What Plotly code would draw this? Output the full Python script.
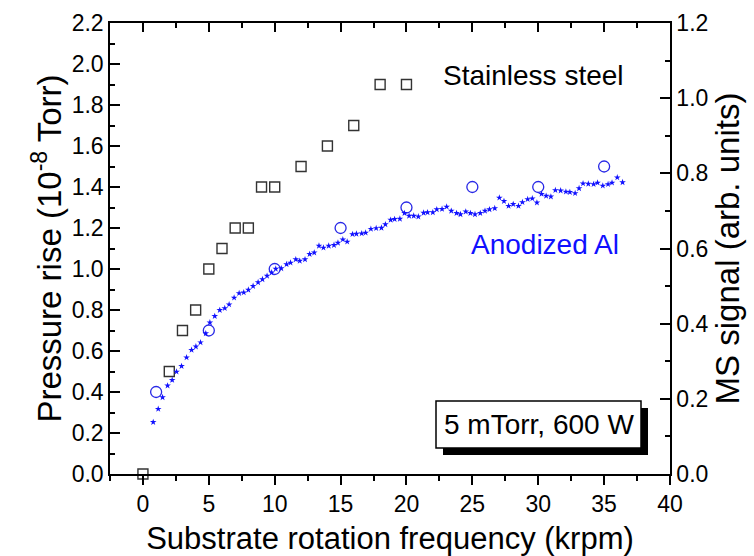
import plotly.graph_objects as go

# Pressure rise, stainless steel substrate holder (left axis, 1e-8 Torr)
ss_krpm = [0, 2, 3, 4, 5, 6, 7, 8, 9, 10, 12, 14, 16, 18, 20]
ss_pressure = [0.0, 0.5, 0.7, 0.8, 1.0, 1.1, 1.2, 1.2, 1.4, 1.4, 1.5, 1.6, 1.7, 1.9, 1.9]

# Pressure rise, anodized Al substrate holder (left axis, 1e-8 Torr)
al_krpm = [1, 5, 10, 15, 20, 25, 30, 35]
al_pressure = [0.4, 0.7, 1.0, 1.2, 1.3, 1.4, 1.4, 1.5]

# Mass-spectrometer signal, anodized Al (right axis, arb. units)
ms_krpm = [
    0.78, 1.16, 1.49, 1.87, 2.22, 2.55, 2.93, 3.31, 3.69, 4.02,
    4.37, 4.77, 5.08, 5.45, 5.83, 6.21, 6.54, 6.92, 7.30, 7.65,
    8.00, 8.36, 8.74, 9.07, 9.42, 9.77, 10.08, 10.50, 10.90, 11.20,
    11.60, 11.90, 12.30, 12.65, 13.00, 13.36, 13.70, 14.10, 14.50, 14.80,
    15.17, 15.50, 15.90, 16.20, 16.60, 16.90, 17.30, 17.70, 18.10, 18.40,
    18.80, 19.10, 19.50, 19.85, 20.20, 20.55, 20.90, 21.30, 21.60, 22.00,
    22.30, 22.70, 23.05, 23.40, 23.80, 24.10, 24.50, 24.85, 25.20, 25.60,
    25.96, 26.30, 26.70, 27.05, 27.40, 27.75, 28.10, 28.50, 28.80, 29.20,
    29.55, 29.90, 30.25, 30.60, 30.96, 31.30, 31.70, 32.10, 32.40, 32.80,
    33.10, 33.40, 33.80, 34.20, 34.50, 34.90, 35.30, 35.60, 36.00, 36.40,
]
ms_signal = [
    0.138, 0.173, 0.204, 0.235, 0.250, 0.272, 0.287, 0.310, 0.330, 0.339,
    0.350, 0.374, 0.403, 0.420, 0.436, 0.441, 0.451, 0.469, 0.481, 0.483,
    0.490, 0.500, 0.510, 0.518, 0.527, 0.536, 0.546, 0.547, 0.558, 0.562,
    0.571, 0.567, 0.571, 0.585, 0.589, 0.607, 0.602, 0.607, 0.609, 0.615,
    0.624, 0.618, 0.638, 0.639, 0.640, 0.642, 0.652, 0.654, 0.655, 0.664,
    0.676, 0.678, 0.679, 0.694, 0.687, 0.687, 0.685, 0.695, 0.696, 0.696,
    0.704, 0.705, 0.711, 0.700, 0.694, 0.691, 0.698, 0.694, 0.691, 0.694,
    0.700, 0.704, 0.707, 0.735, 0.726, 0.713, 0.718, 0.713, 0.723, 0.731,
    0.733, 0.722, 0.745, 0.740, 0.738, 0.755, 0.754, 0.751, 0.750, 0.747,
    0.760, 0.773, 0.772, 0.771, 0.775, 0.767, 0.771, 0.775, 0.789, 0.776,
]

x_ticks = [0, 5, 10, 15, 20, 25, 30, 35, 40]

FONT = "Liberation Sans, Arial, sans-serif"
BLUE = "#1010ff"

fig = go.Figure()

fig.add_trace(go.Scatter(
    x=ms_krpm, y=ms_signal, mode="markers", yaxis="y2", xaxis="x",
    marker=dict(symbol="star", size=5, color=BLUE, line=dict(width=0)),
    cliponaxis=False,
))
fig.add_trace(go.Scatter(
    x=al_krpm, y=al_pressure, mode="markers",
    marker=dict(symbol="circle-open", size=11, color="#2828e6", line=dict(width=1.3)),
    cliponaxis=False,
))
fig.add_trace(go.Scatter(
    x=ss_krpm, y=ss_pressure, mode="markers",
    marker=dict(symbol="square-open", size=10, color="#333333", line=dict(width=1.4)),
    cliponaxis=False,
))
# invisible trace to activate the top mirror axis
fig.add_trace(go.Scatter(x=[None], y=[None], xaxis="x2", yaxis="y", showlegend=False))

axis_common = dict(
    showline=True, linecolor="black", linewidth=1.5,
    tickcolor="black", tickwidth=1.5, showgrid=False, zeroline=False,
    automargin=False,
    tickfont=dict(family=FONT, size=23, color="black"),
)

fig.update_layout(
    width=754, height=556,
    margin=dict(l=110, r=84, t=23, b=82),
    paper_bgcolor="white", plot_bgcolor="white",
    showlegend=False,
    xaxis=dict(
        range=[-2.5, 40], tickvals=x_ticks, ticks="outside", ticklen=9,
        minor=dict(dtick=2.5, tick0=0, ticks="outside", ticklen=5, tickcolor="black", tickwidth=1.5),
        title=dict(text="Substrate rotation frequency (krpm)",
                   font=dict(family=FONT, size=31, color="black"), standoff=12),
        **axis_common,
    ),
    xaxis2=dict(
        range=[-2.5, 40], overlaying="x", side="top", tickvals=x_ticks,
        ticks="inside", ticklen=9, showticklabels=False,
        minor=dict(dtick=2.5, tick0=0, ticks="inside", ticklen=5, tickcolor="black", tickwidth=1.5),
        **axis_common,
    ),
    yaxis=dict(
        range=[0, 2.2], dtick=0.2, tick0=0, tickformat=".1f",
        ticks="inside", ticklen=10,
        minor=dict(dtick=0.1, ticks="inside", ticklen=5, tickcolor="black", tickwidth=1.5),
        title=dict(text="Pressure rise (10<sup>-8</sup> Torr)",
                   font=dict(family=FONT, size=33, color="black"), standoff=0),
        **axis_common,
    ),
    yaxis2=dict(
        range=[0, 1.2], dtick=0.2, tick0=0, tickformat=".1f",
        overlaying="y", side="right", ticks="inside", ticklen=10,
        minor=dict(dtick=0.1, ticks="inside", ticklen=5, tickcolor="black", tickwidth=1.5),
        title=dict(text="MS signal (arb. units)",
                   font=dict(family=FONT, size=33, color="black"), standoff=6),
        **axis_common,
    ),
)

# Condition box with drop shadow
fig.add_shape(type="rect", xref="paper", yref="paper",
              x0=(443 - 110) / 560, x1=(648 - 110) / 560,
              y0=(474 - 455) / 451, y1=(474 - 408) / 451,
              fillcolor="black", line=dict(width=0), layer="above")
fig.add_shape(type="rect", xref="paper", yref="paper",
              x0=(436 - 110) / 560, x1=(641 - 110) / 560,
              y0=(474 - 448) / 451, y1=(474 - 401) / 451,
              fillcolor="white", line=dict(color="black", width=1.5), layer="above")

label_pos = dict(xref="paper", yref="paper", showarrow=False,
                 xanchor="center", yanchor="middle")
fig.add_annotation(text="5 mTorr, 600 W",
                   x=(539 - 110) / 560, y=(474 - 424) / 451,
                   font=dict(family=FONT, size=28, color="black"), **label_pos)
fig.add_annotation(text="Stainless steel",
                   x=(533 - 110) / 560, y=(474 - 75) / 451,
                   font=dict(family=FONT, size=28, color="black"), **label_pos)
fig.add_annotation(text="Anodized Al",
                   x=(545 - 110) / 560, y=(474 - 245) / 451,
                   font=dict(family=FONT, size=28, color=BLUE), **label_pos)

fig.write_html("out.html")
